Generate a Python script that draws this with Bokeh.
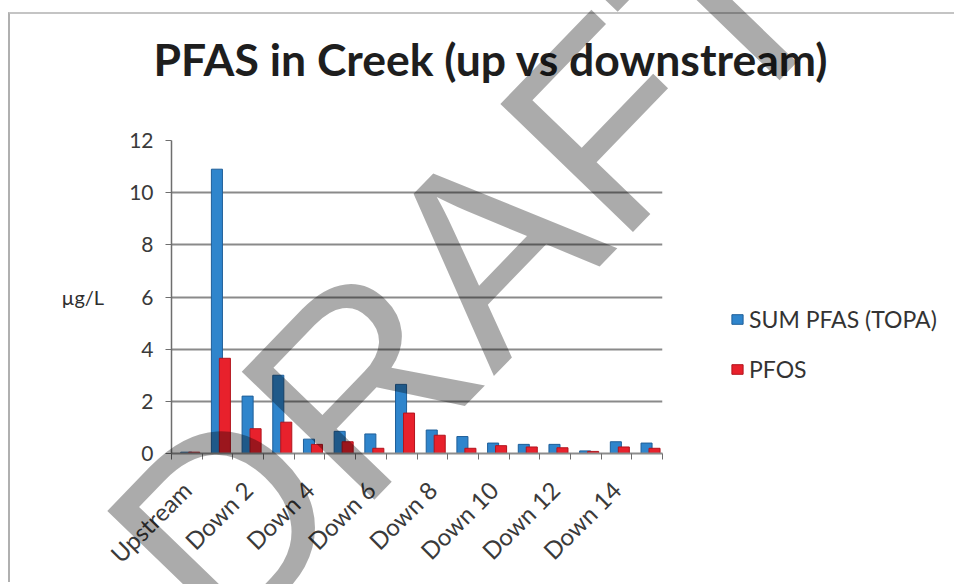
import math
from bokeh.plotting import figure
from bokeh.models import (ColumnDataSource, FixedTicker, Legend, LegendItem,
                          Range1d, Title, Div, LinearAxis)
from bokeh.layouts import column
from bokeh.embed import file_html
from bokeh.resources import INLINE

categories = ["Upstream"] + [f"Down {i}" for i in range(1, 16)]
sum_pfas = [0.05, 10.9, 2.2, 3.0, 0.55, 0.85, 0.75, 2.65, 0.9, 0.65, 0.4, 0.35, 0.35, 0.1, 0.45, 0.4]
pfos = [0.05, 3.65, 0.95, 1.2, 0.35, 0.45, 0.2, 1.55, 0.7, 0.2, 0.3, 0.25, 0.22, 0.08, 0.25, 0.2]
y_ticks = [0, 2, 4, 6, 8, 10, 12]
series_names = ["SUM PFAS (TOPA)", "PFOS"]
title_text = "PFAS in Creek (up vs downstream)"
y_label = "µg/L"
watermark = "DRAFT"

idx = list(range(len(categories)))
src = ColumnDataSource(dict(
    xb=[i - 0.02 for i in idx], xr=[i + 0.24 for i in idx],
    sum_pfas=sum_pfas, pfos=pfos))

FONT = "Lato"
p = figure(frame_width=491, frame_height=313, output_backend="svg",
           toolbar_location=None,
           x_range=Range1d(-0.5, len(categories) - 0.5), y_range=Range1d(0, 12),
           min_border_left=171, min_border_right=284, min_border_top=140,
           min_border_bottom=120, title=None)
p.outline_line_color = None

rb = p.vbar(x="xb", top="sum_pfas", width=0.36, source=src,
            fill_color="#2f85cc", line_color="#1f5f99", line_width=1)
rr = p.vbar(x="xr", top="pfos", width=0.36, source=src,
            fill_color="#e8212c", line_color="#b3141d", line_width=1)

# axes
p.yaxis.ticker = FixedTicker(ticks=y_ticks)
p.yaxis.major_label_text_font = FONT
p.yaxis.major_label_text_font_size = "21px"
p.yaxis.major_label_text_color = "#3a3a3a"
p.yaxis.axis_line_color = "#6e6e6e"
p.yaxis.axis_line_width = 1.5
p.yaxis.major_tick_out = 6
p.yaxis.major_tick_in = 0
p.yaxis.major_tick_line_color = "#6e6e6e"
p.yaxis.minor_tick_line_color = None
p.yaxis.major_label_standoff = 12
p.yaxis.axis_label = y_label
p.yaxis.axis_label_text_font = FONT
p.yaxis.axis_label_text_font_style = "normal"
p.yaxis.axis_label_text_font_size = "20px"
p.yaxis.axis_label_text_color = "#2e2e2e"
p.yaxis.axis_label_standoff = 22
if "axis_label_orientation" in LinearAxis.properties():
    p.yaxis.axis_label_orientation = "horizontal"

even = [i for i in idx if i % 2 == 0]
p.xaxis.ticker = FixedTicker(ticks=even, minor_ticks=[i - 0.5 for i in idx] + [len(idx) - 0.5])
p.xaxis.major_label_overrides = {i: categories[i] for i in even}
p.xaxis.major_label_orientation = math.pi / 4
p.xaxis.major_label_text_font = FONT
p.xaxis.major_label_text_font_size = "24px"
p.xaxis.major_label_text_color = "#3a3a3a"
p.xaxis.axis_line_color = "#8c8c8c"
p.xaxis.axis_line_width = 2
p.xaxis.major_tick_line_color = None
p.xaxis.minor_tick_out = 6
p.xaxis.minor_tick_in = 0
p.xaxis.minor_tick_line_color = "#6e6e6e"
p.xaxis.major_label_standoff = 26

p.xgrid.grid_line_color = None
p.ygrid.ticker = FixedTicker(ticks=y_ticks)
p.ygrid.grid_line_color = "#8a8a8a"
p.ygrid.grid_line_width = 2

legend = Legend(items=[LegendItem(label=series_names[0], renderers=[rb]),
                       LegendItem(label=series_names[1], renderers=[rr])],
                location=(68, 70), padding=0, margin=0, spacing=22,
                glyph_width=14, glyph_height=12, label_height=26,
                label_text_font=FONT, label_text_font_size="23px",
                label_text_color="#333333", border_line_color=None,
                background_fill_alpha=0, label_standoff=5)
p.add_layout(legend, "right")

spacer = Title(text="\u00a0", text_font=FONT, text_font_size="32px")
p.add_layout(spacer, "above")
title = Title(text=title_text, align="left", offset=-18, text_font=FONT,
              text_font_style="bold", text_font_size="44.5px", text_color="#1e1e1e")
p.add_layout(title, "above")

# DRAFT watermark and chart-area border stamped over the page (overlay)
DY = -15  # the overlay container's own vertical offset
wm_cx, wm_cy, wm_angle = 468, 272, 46
wm = Div(width=954, height=0, margin=0, text=(
    '<div style="position:relative;width:0;height:0;overflow:visible;">'
    f'<div style="position:absolute;left:8px;top:{15 + DY}px;width:946px;height:570px;'
    'border-top:2px solid #c4c4c4;border-left:2px solid #b0b0b0;pointer-events:none;"></div>'
    f'<div style="position:absolute;left:{wm_cx}px;top:{wm_cy + DY}px;'
    f'transform:translate(-50%,-50%) rotate(-{wm_angle}deg);font-family:\'Liberation Sans\';'
    'font-size:268px;line-height:1;color:rgba(0,0,0,0.33);white-space:nowrap;'
    f'pointer-events:none;z-index:1000;">{watermark}</div></div>'),
    styles={"z-index": "1000", "position": "relative"})

layout = column(wm, p, spacing=0)
open("out.html", "w").write(file_html(layout, INLINE))
